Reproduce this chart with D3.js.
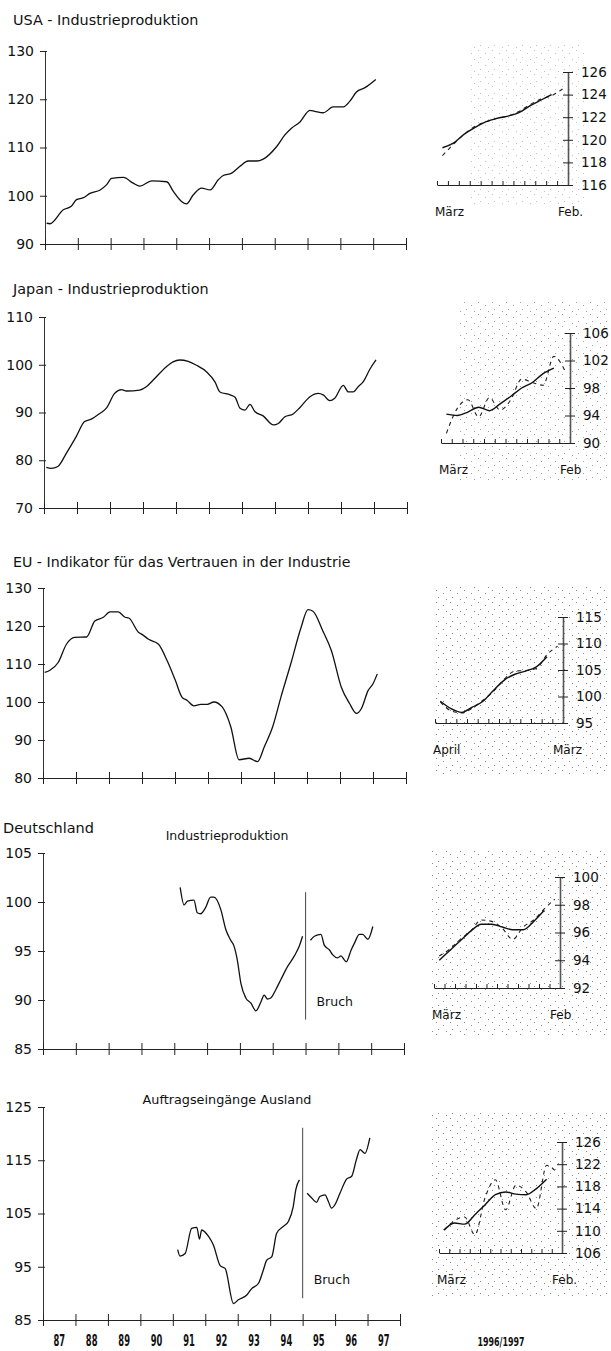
<!DOCTYPE html>
<html>
<head>
<meta charset="utf-8">
<script src="https://cdn.jsdelivr.net/npm/d3@7"></script>
<style>
  body { margin: 0; background: #fff; }
  svg text { font-family: "DejaVu Sans", sans-serif; fill: #111; }
  .yr { font-family: "DejaVu Sans Condensed", "DejaVu Sans", sans-serif; font-stretch: condensed; font-weight: bold; }
</style>
</head>
<body>
<svg id="chart" width="611" height="1351"></svg>
<script>
// ---- long run series (decimal year, value) ----
const yearLabels = ["87", "88", "89", "90", "91", "92", "93", "94", "95", "96", "97"];

const usaDates = [1987.05, 1987.15, 1987.56, 1987.8, 1987.96, 1988.17, 1988.37, 1988.68, 1988.88, 1989.03, 1989.39, 1989.69, 1989.89, 1990.25, 1990.71, 1990.91, 1991.16, 1991.31, 1991.52, 1991.77, 1992.03, 1992.28, 1992.43, 1992.69, 1992.94, 1993.19, 1993.45, 1993.65, 1994.06, 1994.31, 1994.51, 1994.77, 1995.07, 1995.22, 1995.48, 1995.78, 1996.09, 1996.29, 1996.49, 1996.75, 1997.08];
const usaValues = [94.3, 94.2, 97.1, 97.8, 99.2, 99.6, 100.5, 101.2, 102.3, 103.6, 103.8, 102.6, 102.0, 103.1, 102.9, 100.9, 98.8, 98.3, 100.2, 101.6, 101.2, 103.3, 104.2, 104.7, 106.1, 107.2, 107.2, 107.6, 110.2, 112.6, 114.0, 115.3, 117.7, 117.5, 117.2, 118.4, 118.4, 119.6, 121.5, 122.4, 124.1];

const japanDates = [1987.07, 1987.22, 1987.42, 1987.68, 1987.98, 1988.23, 1988.43, 1988.69, 1988.89, 1989.14, 1989.35, 1989.5, 1989.9, 1990.1, 1990.31, 1990.71, 1990.91, 1991.11, 1991.37, 1991.62, 1991.93, 1992.18, 1992.33, 1992.64, 1992.79, 1992.94, 1993.09, 1993.24, 1993.39, 1993.64, 1993.95, 1994.1, 1994.3, 1994.55, 1994.75, 1995.06, 1995.31, 1995.46, 1995.66, 1995.81, 1996.07, 1996.22, 1996.37, 1996.52, 1996.67, 1996.87, 1997.06];
const japanValues = [78.5, 78.3, 78.7, 81.5, 85.0, 88.1, 88.6, 89.8, 90.9, 94.0, 94.8, 94.5, 94.7, 95.4, 96.8, 99.6, 100.6, 101.0, 100.7, 99.9, 98.5, 96.4, 94.3, 93.7, 93.2, 90.9, 90.5, 91.7, 90.2, 89.3, 87.4, 87.7, 89.1, 89.7, 91.0, 93.3, 94.0, 93.7, 92.5, 93.0, 95.7, 94.3, 94.3, 95.4, 96.4, 99.0, 101.0];

const euDates = [1987.05, 1987.2, 1987.46, 1987.71, 1987.96, 1988.32, 1988.57, 1988.83, 1989.03, 1989.28, 1989.49, 1989.6, 1989.9, 1990.0, 1990.2, 1990.5, 1990.76, 1991.01, 1991.21, 1991.37, 1991.57, 1991.78, 1991.98, 1992.18, 1992.43, 1992.69, 1992.94, 1993.25, 1993.5, 1993.71, 1993.96, 1994.21, 1994.52, 1994.82, 1995.03, 1995.18, 1995.48, 1995.74, 1996.04, 1996.29, 1996.5, 1996.65, 1996.85, 1997.0, 1997.13];
const euValues = [107.8, 108.3, 110.4, 115.2, 117.0, 117.1, 121.3, 122.3, 123.7, 123.7, 122.3, 122.1, 118.3, 117.8, 116.5, 115.2, 110.9, 105.7, 101.3, 100.4, 99.0, 99.4, 99.4, 100.0, 98.7, 93.5, 84.8, 85.2, 84.3, 88.3, 93.5, 101.3, 110.4, 119.6, 124.3, 123.9, 118.7, 113.5, 103.9, 99.6, 97.0, 98.3, 103.0, 104.8, 107.4];

// null = break in the series ("Bruch")
const deIpDates = [1991.18, 1991.3, 1991.4, 1991.6, 1991.7, 1991.8, 1991.95, 1992.11, 1992.21, 1992.42, 1992.57, 1992.72, 1992.82, 1992.92, 1993.03, 1993.18, 1993.33, 1993.49, 1993.64, 1993.74, 1993.84, 1993.94, 1994.1, 1994.25, 1994.45, 1994.66, 1994.81, 1994.91, 1995.0, 1995.15, 1995.27, 1995.47, 1995.57, 1995.73, 1995.83, 1995.98, 1996.08, 1996.18, 1996.24, 1996.39, 1996.49, 1996.64, 1996.74, 1996.9, 1997.05];
const deIpValues = [101.5, 99.7, 100.1, 100.2, 98.9, 98.8, 99.4, 100.5, 100.5, 99.2, 97.2, 96.1, 95.5, 94.1, 91.7, 90.2, 89.7, 88.9, 89.8, 90.5, 90.1, 90.2, 91.1, 92.1, 93.4, 94.5, 95.5, 96.5, null, 96.1, 96.5, 96.7, 95.6, 95.1, 94.6, 94.3, 94.5, 94.1, 93.9, 95.1, 95.8, 96.7, 96.7, 96.2, 97.5];

const afDates = [1991.15, 1991.22, 1991.38, 1991.58, 1991.74, 1991.82, 1991.89, 1992.1, 1992.25, 1992.46, 1992.61, 1992.87, 1993.02, 1993.28, 1993.43, 1993.64, 1993.79, 1993.89, 1994.05, 1994.2, 1994.41, 1994.56, 1994.71, 1994.79, 1994.9, 1995.0, 1995.14, 1995.28, 1995.43, 1995.53, 1995.69, 1995.79, 1995.89, 1995.99, 1996.15, 1996.36, 1996.51, 1996.66, 1996.77, 1996.92, 1997.07];
const afValues = [98.2, 97.0, 97.5, 102.2, 102.4, 100.2, 101.9, 100.7, 99.1, 95.2, 94.7, 88.1, 88.8, 89.7, 90.9, 91.9, 94.4, 96.2, 96.9, 101.3, 102.6, 103.5, 106.3, 109.5, 111.3, null, 108.8, 107.9, 107.1, 108.2, 108.5, 107.3, 106.0, 106.6, 108.8, 111.5, 112.0, 115.2, 117.0, 116.3, 119.2];

// ---- 1996/1997 monthly: trend (solid) and actual (dashed) ----
const usaTrend = [119.3, 119.7, 120.5, 121.1, 121.6, 121.9, 122.1, 122.4, 123.0, 123.5, 124.0];
const usaActual = [118.6, 119.6, 120.5, 121.2, 121.6, 121.9, 122.1, 122.5, 123.1, 123.6, 123.9, 124.5];
const japanTrend = [94.2, 94.0, 94.5, 95.2, 94.7, 95.7, 96.8, 98.0, 98.8, 100.1, 100.9];
const japanActual = [91.4, 95.0, 96.3, 93.8, 96.6, 94.8, 96.3, 99.3, 98.8, 98.4, 102.6, 100.6];
const euTrend = [99.1, 97.7, 97.0, 98.0, 99.1, 101.2, 103.1, 104.2, 104.8, 105.6, 107.5];
const euActual = [99.0, 97.3, 96.9, 97.8, 99.3, 101.0, 103.3, 104.8, 104.9, 105.3, 107.9, 109.5];
const deIpTrend = [94.0, 94.7, 95.4, 96.1, 96.6, 96.6, 96.4, 96.2, 96.2, 96.8, 97.6];
const deIpActual = [94.3, 94.8, 95.5, 96.1, 96.9, 96.8, 96.3, 95.5, 96.4, 96.9, 97.7, 98.4];
const afTrend = [110.1, 111.4, 111.2, 112.9, 114.7, 116.5, 117.0, 116.6, 116.5, 117.6, 119.3];
const afActual = [110.2, 111.8, 112.5, 109.3, 116.0, 119.2, 113.8, 118.2, 117.0, 114.0, 121.8, 120.5];

const svg = d3.select("#chart");

// stipple texture of the small panels (print raster)
const defs = svg.append("defs");
const pat = defs.append("pattern").attr("id", "stipple")
    .attr("patternUnits", "userSpaceOnUse").attr("width", 14).attr("height", 12);
[[2, 2], [9, 5], [4, 9], [12, 11]].forEach(p => {
    pat.append("rect").attr("x", p[0]).attr("y", p[1]).attr("width", 1).attr("height", 1).attr("fill", "#777");
});

function drawMain(cfg) {
    let g = svg.append("g");
    let x = d3.scaleLinear().domain([1987, 1998]).range([cfg.x0, cfg.x1]);
    let y = d3.scaleLinear().domain(cfg.yDomain).range([cfg.yBottom, cfg.yTop]);

    // y axis
    let ya = g.append("g").attr("transform", `translate(${cfg.x0},0)`)
        .call(d3.axisLeft(y).tickValues(cfg.yTicks).tickSizeOuter(0).tickSizeInner(5).tickPadding(6));
    ya.select(".domain").attr("stroke", "#333");
    ya.selectAll(".tick line").attr("x1", 2).attr("stroke", "#222");
    ya.selectAll(".tick text").style("font-size", "14px").attr("fill", "#111");

    // x axis, ticks crossing the line
    let xa = g.append("g").attr("transform", `translate(0,${cfg.yBottom})`)
        .call(d3.axisBottom(x).tickValues(d3.range(1987, 1999)).tickSize(6).tickSizeOuter(0).tickFormat(""));
    xa.select(".domain").attr("stroke", "#222");
    xa.selectAll(".tick line").attr("y1", -6).attr("stroke", "#222");

    if (cfg.years) {
        g.selectAll(".yr").data(yearLabels).enter().append("text")
            .attr("class", "yr")
            .attr("transform", (d, i) => `translate(${(x(1987 + i) + x(1988 + i)) / 2},${cfg.yBottom + 26}) scale(0.62,1)`)
            .attr("text-anchor", "middle")
            .style("font-size", "15px")
            .text(d => d);
    }

    if (cfg.bruch) {
        g.append("line")
            .attr("x1", x(1995)).attr("x2", x(1995))
            .attr("y1", y(cfg.bruch[0])).attr("y2", y(cfg.bruch[1]))
            .attr("stroke", "#555").attr("stroke-width", 1.1);
        g.append("text").attr("x", x(1995) + 11).attr("y", y(cfg.bruch[1]) - 14)
            .style("font-size", "12.5px").text("Bruch");
    }

    let pts = d3.zip(cfg.dates, cfg.values);
    let line = d3.line().defined(d => d[1] !== null)
        .x(d => x(d[0])).y(d => y(d[1])).curve(d3.curveMonotoneX);
    g.append("path").datum(pts)
        .attr("d", line).attr("fill", "none")
        .attr("stroke", "#111").attr("stroke-width", 1.3);
}

function drawSmall(cfg) {
    let g = svg.append("g");
    let x = d3.scaleLinear().domain([0, 12]).range([cfg.x0, cfg.x1]);
    let y = d3.scaleLinear().domain(cfg.yDomain).range([cfg.yBottom, cfg.yTop]);

    g.append("rect").attr("x", cfg.bg[0]).attr("y", cfg.bg[1])
        .attr("width", cfg.bg[2]).attr("height", cfg.bg[3])
        .attr("fill", "url(#stipple)").attr("opacity", cfg.bgOpacity);

    // x axis with small upward month ticks
    let xa = g.append("g").attr("transform", `translate(0,${cfg.yBottom})`)
        .call(d3.axisBottom(x).tickValues(d3.range(0, 12)).tickSize(0).tickSizeOuter(0).tickFormat(""));
    xa.select(".domain").attr("stroke", "#222");
    xa.selectAll(".tick line").attr("y1", -4).attr("y2", 0).attr("stroke", "#222");

    // y axis on the right
    let ya = g.append("g").attr("transform", `translate(${cfg.x1},0)`)
        .call(d3.axisRight(y).tickValues(cfg.yTicks).tickSizeInner(5).tickSizeOuter(0).tickPadding(8));
    ya.select(".domain").attr("stroke", "#555").attr("stroke-width", 1.6);
    ya.selectAll(".tick line").attr("x1", -5).attr("stroke", "#222");
    ya.selectAll(".tick text").style("font-size", "13.5px").attr("fill", "#111");

    g.append("text").attr("x", cfg.x0 - 2).attr("y", cfg.yBottom + 31)
        .style("font-size", "12px").text(cfg.firstMonth);
    g.append("text").attr("x", cfg.x1 - 10).attr("y", cfg.yBottom + 31)
        .style("font-size", "12px").text(cfg.lastMonth);

    let line = d3.line().x((d, i) => x(i + 0.5)).y(d => y(d)).curve(d3.curveMonotoneX);
    g.append("path").datum(cfg.actual).attr("d", line)
        .attr("fill", "none").attr("stroke", "#222").attr("stroke-width", 1.1)
        .attr("stroke-dasharray", "4,4");
    g.append("path").datum(cfg.trend).attr("d", line)
        .attr("fill", "none").attr("stroke", "#111").attr("stroke-width", 1.4);
}

function title(txt, x, y, size, anchor) {
    svg.append("text").attr("x", x).attr("y", y)
        .attr("text-anchor", anchor || "start")
        .style("font-size", size + "px").text(txt);
}

// ---- titles ----
title("USA - Industrieproduktion", 13, 25, 14.4);
title("Japan - Industrieproduktion", 13, 294, 14.4);
title("EU - Indikator für das Vertrauen in der Industrie", 13, 567, 14.2);
title("Deutschland", 3, 833, 14.5);
title("Industrieproduktion", 227, 840, 12.5, "middle");
title("Auftragseingänge Ausland", 227, 1104, 12.8, "middle");
svg.append("text").attr("class", "yr")
    .attr("transform", "translate(501,1346) scale(0.68,1)")
    .attr("text-anchor", "middle").style("font-size", "13px").text("1996/1997");

// ---- main charts ----
drawMain({dates: usaDates, values: usaValues, x0: 45, x1: 406, yTop: 51, yBottom: 244,
    yDomain: [90, 130], yTicks: [90, 100, 110, 120, 130]});
drawMain({dates: japanDates, values: japanValues, x0: 44, x1: 407, yTop: 317, yBottom: 508,
    yDomain: [70, 110], yTicks: [70, 80, 90, 100, 110]});
drawMain({dates: euDates, values: euValues, x0: 43, x1: 406, yTop: 588, yBottom: 778,
    yDomain: [80, 130], yTicks: [80, 90, 100, 110, 120, 130]});
drawMain({dates: deIpDates, values: deIpValues, x0: 43, x1: 404, yTop: 853, yBottom: 1049,
    yDomain: [85, 105], yTicks: [85, 90, 95, 100, 105], bruch: [101, 88]});
drawMain({dates: afDates, values: afValues, x0: 43, x1: 400, yTop: 1107, yBottom: 1320,
    yDomain: [85, 125], yTicks: [85, 95, 105, 115, 125], bruch: [121.1, 89.1], years: true});

// ---- small 1996/1997 charts ----
drawSmall({trend: usaTrend, actual: usaActual, x0: 437, x1: 568, yTop: 72, yBottom: 185,
    yDomain: [116, 126], yTicks: [116, 118, 120, 122, 124, 126], firstMonth: "März", lastMonth: "Feb.",
    bg: [470, 44, 115, 160], bgOpacity: 0.45});
drawSmall({trend: japanTrend, actual: japanActual, x0: 441, x1: 570, yTop: 333, yBottom: 443,
    yDomain: [90, 106], yTicks: [90, 94, 98, 102, 106], firstMonth: "März", lastMonth: "Feb",
    bg: [458, 302, 150, 180], bgOpacity: 0.7});
drawSmall({trend: euTrend, actual: euActual, x0: 435, x1: 563, yTop: 617, yBottom: 723,
    yDomain: [95, 115], yTicks: [95, 100, 105, 110, 115], firstMonth: "April", lastMonth: "März",
    bg: [434, 586, 177, 190], bgOpacity: 0.85});
drawSmall({trend: deIpTrend, actual: deIpActual, x0: 434, x1: 560, yTop: 877, yBottom: 988,
    yDomain: [92, 100], yTicks: [92, 94, 96, 98, 100], firstMonth: "März", lastMonth: "Feb",
    bg: [430, 850, 181, 185], bgOpacity: 0.85});
drawSmall({trend: afTrend, actual: afActual, x0: 439, x1: 562, yTop: 1142, yBottom: 1253,
    yDomain: [106, 126], yTicks: [106, 110, 114, 118, 122, 126], firstMonth: "März", lastMonth: "Feb.",
    bg: [430, 1112, 181, 185], bgOpacity: 0.85});
</script>
</body>
</html>
